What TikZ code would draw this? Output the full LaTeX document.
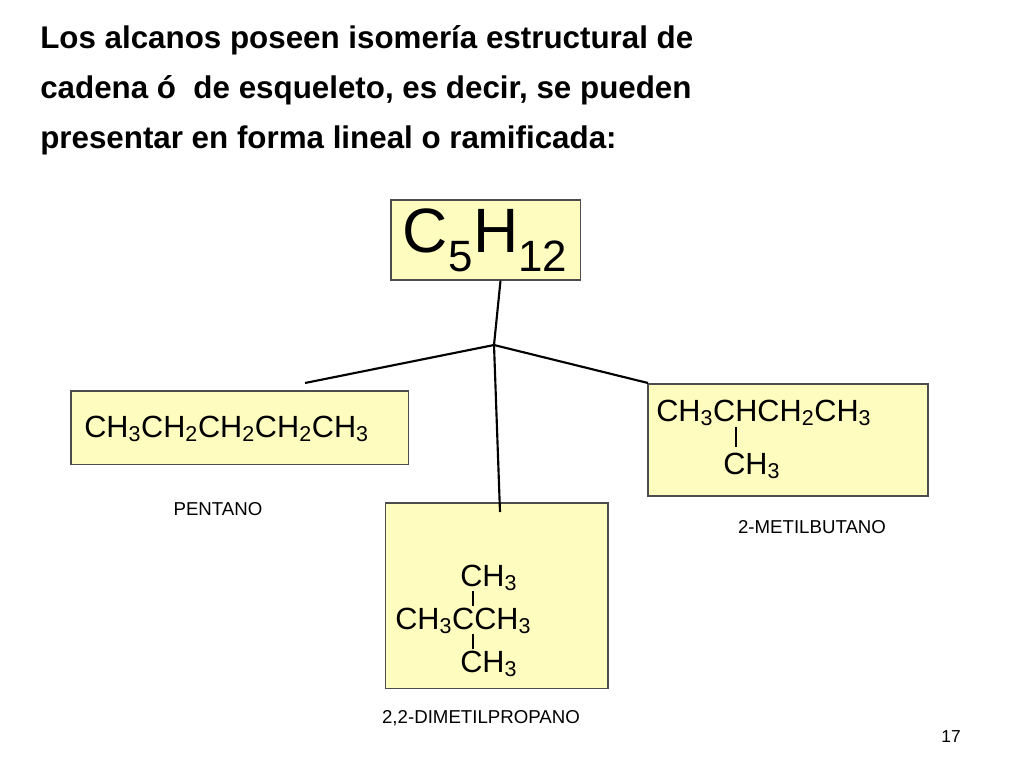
\documentclass[tikz,border=0pt]{standalone}
\usepackage{fontspec}
\setmainfont{Liberation Sans}
\usetikzlibrary{positioning}

\newcommand{\sbs}[1]{\textsubscript{#1}}

\tikzset{
  formbox/.style={draw=black!70, fill=yellow!25, line width=1pt, inner sep=0pt},
  formtext/.style={anchor=base west, inner sep=0pt, font=\fontsize{23}{23}\selectfont},
  namelabel/.style={inner sep=0pt, font=\fontsize{14}{14}\selectfont},
  branch/.style={line width=1.6pt},
}

\begin{document}
\begin{tikzpicture}[x=0.75pt,y=-0.75pt]
	\useasboundingbox (0,0) rectangle (1024,768);

	% Title
	\node [anchor=north west, inner sep=0pt, align=left, font=\bfseries\fontsize{23.5}{37.5}\selectfont] (title) at (40,25)
	  {Los alcanos poseen isomería estructural de\\cadena ó~ de esqueleto, es decir, se pueden\\presentar en forma lineal o ramificada:};

	% Boxes
	\node [formbox, minimum width=142pt, minimum height=60pt, font=\fontsize{47}{47}\selectfont] (formula) at (485.5,240) {C\sbs{5}H\sbs{12}};
	\node [formbox, minimum width=253pt, minimum height=55pt] (pentbox) at (239.5,427.5) {};
	\node [formbox, minimum width=210pt, minimum height=84pt] (metbox) at (788,440) {};
	\node [formbox, minimum width=167pt, minimum height=139pt] (dimbox) at (496.5,595.5) {};

	% Connectors
	\coordinate (junction) at (494,345);
	\coordinate (pentend) at (305,383);
	\coordinate (metend) at (648,383);
	\coordinate (dimend) at (500,512);
	\draw [branch] (formula.south) ++(15,0) -- (junction);
	\draw [branch] (junction) -- (pentend);
	\draw [branch] (junction) -- (metend);
	\draw [branch] (junction) -- (dimend);

	% Formulas
	\node [formtext] (pent) at (84,437) {CH\sbs{3}CH\sbs{2}CH\sbs{2}CH\sbs{2}CH\sbs{3}};

	\node [formtext] (metmain) at (656,421) {CH\sbs{3}CHCH\sbs{2}CH\sbs{3}};
	\node [formtext] (metside) at (723,474) {CH\sbs{3}};
	\draw [line width=1.2pt] (736,427) -- (736,447);

	\node [formtext] (dimtop) at (460,586) {CH\sbs{3}};
	\node [formtext] (dimmain) at (395,629) {CH\sbs{3}CCH\sbs{3}};
	\node [formtext] (dimbot) at (460,672) {CH\sbs{3}};
	\draw [line width=1.2pt] (473,591) -- (473,606);
	\draw [line width=1.2pt] (473,634) -- (473,649);

	% Names
	\node [namelabel] (pentname) at (218,509) {PENTANO};
	\node [namelabel] (metname) at (812,527) {2-METILBUTANO};
	\node [namelabel] (dimname) at (481,718) {2,2-DIMETILPROPANO};
	\node [inner sep=0pt, font=\fontsize{13}{13}\selectfont] (pagenum) at (951,737) {17};
\end{tikzpicture}
\end{document}
